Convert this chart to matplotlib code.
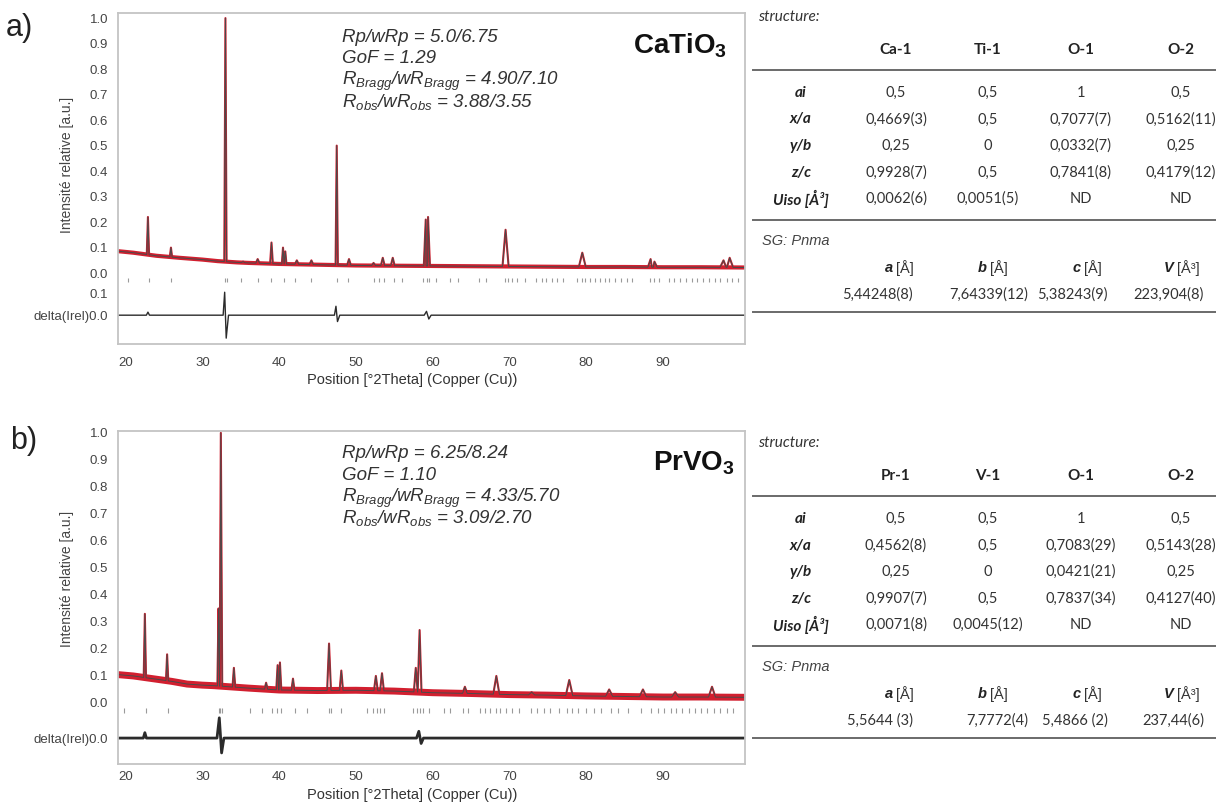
import numpy as np
import matplotlib.pyplot as plt

plt.rcParams['font.family'] = ['Liberation Sans', 'DejaVu Sans']
plt.rcParams['mathtext.fontset'] = 'custom'
plt.rcParams['mathtext.it'] = 'Liberation Sans:italic'
plt.rcParams['mathtext.rm'] = 'Liberation Sans'
plt.rcParams['mathtext.bf'] = 'Liberation Sans:bold'

W, H = 1216, 805
RED = '#d21f2f'

# ---------- panel a) CaTiO3 ----------
ca_bg_x = [19.0, 21, 24, 27, 30, 32, 34.5, 36, 40, 45, 50, 55, 60, 65, 70, 75, 80, 85, 90, 95, 100.7]
ca_bg_y = [0.086, 0.080, 0.068, 0.060, 0.053, 0.047, 0.042, 0.040, 0.036, 0.033, 0.030, 0.029,
           0.028, 0.027, 0.026, 0.025, 0.024, 0.024, 0.023, 0.023, 0.022]
ca_pk_x = [22.9, 25.9, 33.0, 35.3, 37.2, 39.0, 40.5, 40.8, 42.3, 44.2, 47.5, 49.1, 52.3, 53.5,
           54.8, 59.1, 59.4, 69.5, 79.5, 88.4, 88.9, 97.9, 98.7]
ca_pk_y = [0.22, 0.10, 1.0, 0.045, 0.055, 0.12, 0.10, 0.085, 0.05, 0.05, 0.50, 0.055, 0.04, 0.06,
           0.06, 0.21, 0.22, 0.17, 0.08, 0.055, 0.045, 0.05, 0.06]
ca_pk_w = [0.15, 0.15, 0.15, 0.25, 0.25, 0.18, 0.15, 0.15, 0.25, 0.25, 0.15, 0.25, 0.25, 0.25,
           0.25, 0.25, 0.25, 0.4, 0.45, 0.35, 0.35, 0.45, 0.45]
ca_d_x = [19.0, 22.7, 22.9, 23.1, 32.7, 32.9, 33.1, 33.4, 47.2, 47.4, 47.6, 47.9, 58.9, 59.2, 59.5, 59.8, 100.7]
ca_d_y = [0.0, 0.0, 0.012, 0.0, 0.0, 0.09, -0.09, 0.0, 0.0, 0.035, -0.025, 0.0, 0.0, 0.015, -0.015, 0.0, 0.0]
ca_hkl = [20.3, 23.0, 25.9, 33.0, 33.2, 35.0, 37.2, 39.0, 40.6, 42.1, 44.2, 47.5, 49.0, 52.4, 53.0,
          53.6, 54.9, 56.0, 58.8, 59.2, 59.5, 60.5, 62.2, 63.3, 66.0, 67.0, 69.4, 69.8, 70.3, 71.0,
          72.0, 73.5, 74.2, 74.8, 75.5, 76.2, 77.0, 78.8, 79.4, 79.9, 80.5, 81.2, 81.8, 82.4, 83.0,
          83.8, 84.5, 85.3, 86.0, 88.3, 88.9, 89.5, 90.8, 91.5, 92.2, 93.0, 93.8, 94.5, 95.2, 96.0,
          96.8, 97.5, 98.3, 99.0, 99.8]
ca_stats = ['5.0/6.75', '1.29', '4.90/7.10', '3.88/3.55']
ca_sites = ['Ca-1', 'Ti-1', 'O-1', 'O-2']
ca_vals = [['0,5', '0,5', '1', '0,5'],
           ['0,4669(3)', '0,5', '0,7077(7)', '0,5162(11)'],
           ['0,25', '0', '0,0332(7)', '0,25'],
           ['0,9928(7)', '0,5', '0,7841(8)', '0,4179(12)'],
           ['0,0062(6)', '0,0051(5)', 'ND', 'ND']]
ca_cell = ['5,44248(8)', '7,64339(12)', '5,38243(9)', '223,904(8)']

# ---------- panel b) PrVO3 ----------
pr_bg_x = [19.0, 21, 23.5, 26, 28, 30, 31.5, 33.5, 36, 40, 45, 50, 55, 60, 65, 70, 75, 80, 85, 90, 95, 100.7]
pr_bg_y = [0.105, 0.100, 0.090, 0.080, 0.070, 0.066, 0.064, 0.060, 0.055, 0.048, 0.046, 0.047,
           0.044, 0.038, 0.035, 0.031, 0.029, 0.026, 0.024, 0.022, 0.022, 0.021]
pr_pk_x = [22.5, 25.4, 32.1, 32.4, 34.1, 38.3, 39.8, 40.1, 41.8, 46.5, 48.1, 52.6, 53.4, 57.8,
           58.3, 64.2, 68.3, 72.9, 77.8, 83.0, 87.4, 91.6, 96.4]
pr_pk_y = [0.33, 0.18, 0.35, 1.0, 0.13, 0.075, 0.14, 0.15, 0.09, 0.22, 0.12, 0.10, 0.11, 0.13,
           0.27, 0.06, 0.10, 0.04, 0.085, 0.05, 0.05, 0.04, 0.06]
pr_pk_w = [0.15, 0.15, 0.15, 0.18, 0.18, 0.2, 0.18, 0.18, 0.2, 0.25, 0.22, 0.25, 0.25, 0.25,
           0.25, 0.3, 0.4, 0.4, 0.45, 0.45, 0.45, 0.45, 0.45]
pr_d_x = [19.0, 22.3, 22.5, 22.7, 31.9, 32.2, 32.5, 32.8, 57.9, 58.2, 58.5, 58.8, 100.7]
pr_d_y = [0.0, 0.0, 0.02, 0.0, 0.0, 0.075, -0.055, 0.0, 0.0, 0.025, -0.02, 0.0, 0.0]
pr_hkl = [19.8, 22.7, 25.5, 32.1, 32.3, 32.5, 36.2, 37.8, 39.1, 39.7, 40.3, 42.0, 43.6, 46.5, 46.7,
          48.1, 51.4, 52.2, 52.7, 53.2, 53.6, 57.5, 57.9, 58.3, 58.8, 59.5, 61.5, 62.2, 64.0, 64.6,
          66.2, 66.8, 67.5, 68.2, 68.8, 69.5, 70.4, 71.2, 72.8, 73.6, 74.5, 75.3, 76.5, 77.5, 78.2,
          79.0, 80.0, 81.0, 82.0, 83.2, 84.1, 85.5, 87.2, 88.5, 89.4, 90.2, 91.0, 91.7, 92.5, 93.4,
          94.2, 95.0, 95.8, 96.6, 97.5, 98.4, 99.2]
pr_stats = ['6.25/8.24', '1.10', '4.33/5.70', '3.09/2.70']
pr_sites = ['Pr-1', 'V-1', 'O-1', 'O-2']
pr_vals = [['0,5', '0,5', '1', '0,5'],
           ['0,4562(8)', '0,5', '0,7083(29)', '0,5143(28)'],
           ['0,25', '0', '0,0421(21)', '0,25'],
           ['0,9907(7)', '0,5', '0,7837(34)', '0,4127(40)'],
           ['0,0071(8)', '0,0045(12)', 'ND', 'ND']]
pr_cell = ['5,5644 (3)', '7,7772(4)', '5,4866 (2)', '237,44(6)']

row_labels = ['ai', 'x/a', 'y/b', 'z/c', 'Uiso [Å³]']
cell_letters = ['a', 'b', 'c', 'V']
cell_units = ['[Å]', '[Å]', '[Å]', '[Å³]']
x_ticks = [20, 30, 40, 50, 60, 70, 80, 90]
y_ticks = [0.0, 0.1, 0.2, 0.3, 0.4, 0.5, 0.6, 0.7, 0.8, 0.9, 1.0]


def profile(bg_x, bg_y, pk_x, pk_y, pk_w):
    pts = [(x, y) for x, y in zip(bg_x, bg_y)
           if all(abs(x - p) > w for p, w in zip(pk_x, pk_w))]
    for p, h, w in zip(pk_x, pk_y, pk_w):
        pts.append((p - w, np.interp(p - w, bg_x, bg_y)))
        pts.append((p, h))
        pts.append((p + w, np.interp(p + w, bg_x, bg_y)))
    pts.sort()
    return np.array(pts).T


def box(l, t, r, b):
    return [l / W, 1 - b / H, (r - l) / W, (b - t) / H]


def panel(rect, ylim, off, bg_x, bg_y, pk_x, pk_y, pk_w, d_x, d_y, hkl, band, d_lw, xpad, delta_01):
    ax = fig.add_axes(rect)
    px, py = profile(bg_x, bg_y, pk_x, pk_y, pk_w)
    ax.plot(bg_x, bg_y, color=RED, lw=band, solid_capstyle='butt')
    ax.plot(px, py, color=RED, lw=1.5)
    ax.plot(px, py, color='#4a4a4a', lw=0.7)
    ax.vlines(hkl, -0.036, -0.02, color='#9a9a9a', lw=0.8)
    ax.plot(d_x, np.array(d_y) + off, color='#2b2b2b', lw=d_lw)
    ax.set_xlim(19.0, 100.7)
    ax.set_ylim(*ylim)
    ticks = list(y_ticks) + [off]
    labels = [f'{t:.1f}' for t in y_ticks] + ['delta(Irel)0.0']
    if delta_01:
        ticks.append(off + 0.085)
        labels.append('0.1')
    ax.set_yticks(ticks)
    ax.set_yticklabels(labels)
    ax.set_xticks(x_ticks)
    ax.tick_params(length=0, labelsize=9.5, labelcolor='#444444', pad=7)
    ax.tick_params(axis='x', pad=xpad)
    for s in ax.spines.values():
        s.set_color('#c4c4c4')
        s.set_linewidth(1.3)
    return ax


def stats(x, ys, vals):
    txt = ['Rp/wRp = ' + vals[0], 'GoF = ' + vals[1],
           'R$_{Bragg}$/wR$_{Bragg}$ = ' + vals[2], 'R$_{obs}$/wR$_{obs}$ = ' + vals[3]]
    for y, t in zip(ys, txt):
        ov.text(x, y, t, fontsize=13.5, style='italic', color='#333333', va='baseline')


def table(top, sites, vals, cell):
    cols = [896, 988, 1081, 1181]
    ov.text(758, top, 'structure:', fontsize=11, style='italic', color='#333333',
            family='Lato', va='center')
    for c, s in zip(cols, sites):
        ov.text(c, top + 33, s, fontsize=11, weight='bold', color='#222222', family='Lato',
                ha='center', va='center')
    ov.plot([753, 1216], [top + 53, top + 53], color='#6a6a6a', lw=1.4)
    for i, (lab, row) in enumerate(zip(row_labels, vals)):
        y = top + 76 + 26.5 * i
        ov.text(801, y, lab, fontsize=11, weight='bold', style='italic', color='#222222',
                family='Lato', ha='center', va='center')
        for c, v in zip(cols, row):
            ov.text(c, y, v, fontsize=10.5, color='#333333', family='Lato', ha='center', va='center')
    ov.plot([753, 1216], [top + 203, top + 203], color='#6a6a6a', lw=1.4)
    ov.text(762, top + 224, 'SG: Pnma', fontsize=10.5, style='italic', color='#444444', va='center')
    splits = [893, 987, 1081, 1174]
    for sx, l, u in zip(splits, cell_letters, cell_units):
        ov.text(sx, top + 251, l, fontsize=10.5, weight='bold', style='italic', color='#222222',
                ha='right', va='center')
        ov.text(sx + 3, top + 251, u, fontsize=10.5, color='#333333', ha='left', va='center')
    for rx, v in zip([913, 1028, 1108, 1204], cell):
        ov.text(rx, top + 278, v, fontsize=10.5, color='#333333', family='Lato', ha='right', va='center')
    ov.plot([753, 1216], [top + 295, top + 295], color='#6a6a6a', lw=1.4)


fig = plt.figure(figsize=(W / 100, H / 100), dpi=100)

panel(box(118, 13, 745, 344), (-0.278, 1.02), -0.165,
      ca_bg_x, ca_bg_y, ca_pk_x, ca_pk_y, ca_pk_w, ca_d_x, ca_d_y, ca_hkl, 3.0, 1.0, 9, True)
panel(box(118, 431, 745, 764), (-0.226, 1.007), -0.13,
      pr_bg_x, pr_bg_y, pr_pk_x, pr_pk_y, pr_pk_w, pr_d_x, pr_d_y, pr_hkl, 5.0, 2.0, 5, False)

ov = fig.add_axes([0, 0, 1, 1])
ov.set_zorder(10)
ov.set_xlim(0, W)
ov.set_ylim(H, 0)
ov.axis('off')

for yc, yx in [(165, 380), (579, 795)]:
    ov.text(67, yc, 'Intensité relative [a.u.]', rotation=90, fontsize=10, color='#444444',
            ha='center', va='center')
    ov.text(412, yx, 'Position [°2Theta] (Copper (Cu))', fontsize=10.5, color='#333333',
            ha='center', va='center')

ov.text(6, 36, 'a)', fontsize=22, color='#222222', va='baseline')
ov.text(10, 449, 'b)', fontsize=22, color='#222222', va='baseline')
ov.text(633, 53, r'CaTiO$_\mathbf{3}$', fontsize=20, weight='bold', color='#111111', va='baseline')
ov.text(653, 470, r'PrVO$_\mathbf{3}$', fontsize=20, weight='bold', color='#111111', va='baseline')

stats(342, [42, 63, 85, 107], ca_stats)
stats(342, [458, 480, 502, 523], pr_stats)

table(17, ca_sites, ca_vals, ca_cell)
table(443, pr_sites, pr_vals, pr_cell)

fig.savefig('out.png', dpi=100)
